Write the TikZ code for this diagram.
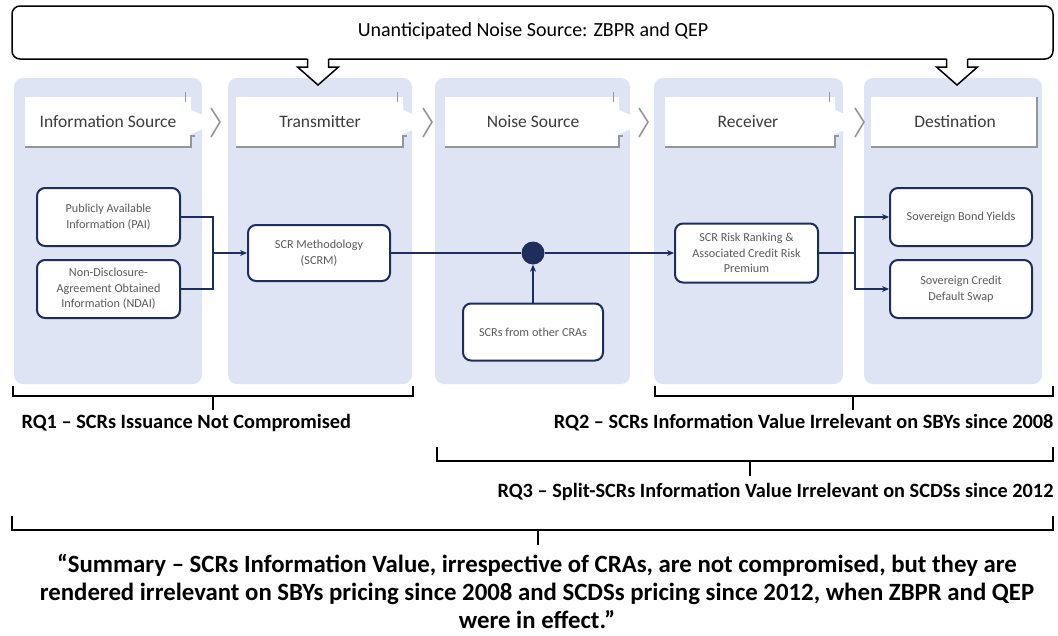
\documentclass[tikz,border=0pt]{standalone}
\usepackage{fontspec}
\setmainfont{Carlito}
\usetikzlibrary{arrows.meta}
\definecolor{navy}{RGB}{31,45,92}
\definecolor{lane}{RGB}{222,228,243}
\definecolor{hdrtext}{RGB}{60,60,60}
\definecolor{boxtext}{RGB}{90,90,90}
\definecolor{shade}{RGB}{150,150,150}
\tikzset{
  x=1pt, y=-1pt,
  lanebox/.style={fill=lane, draw=none, rounded corners=9pt},
  hdr/.style={fill=white, draw=none},
  hdrline/.style={draw=shade, line width=1.6pt},
  hdrlabel/.style={text=hdrtext, font=\fontsize{17.5}{21}\selectfont},
  item/.style={draw=navy, line width=2pt, fill=white, rounded corners=8pt,
    align=center, text=boxtext, font=\fontsize{12.2}{15.5}\selectfont, inner sep=2pt},
  conn/.style={draw=navy, line width=1.8pt},
  tip/.style={-{Stealth[length=7pt,width=6pt]}},
  brace/.style={draw=black, line width=1.2pt},
  rq/.style={font=\bfseries\fontsize{20.3}{24}\selectfont},
}
\begin{document}
\begin{tikzpicture}
\useasboundingbox (0,0) rectangle (1058,635);
\fill[white] (0,0) rectangle (1058,635);

% swim lanes
\path[lanebox] (14,78) rectangle (202,384);
\path[lanebox] (228,78) rectangle (412,384);
\path[lanebox] (435,78) rectangle (630,384);
\path[lanebox] (654,78) rectangle (843,384);
\path[lanebox] (864,78) rectangle (1042,384);

% lane headers (white tabs with right-hand chevrons)
\foreach \l/\r in {25/191, 236/403, 445/619, 665/835}{
  \path[hdr] (\l,97) -- (\r,97) -- (\r,110) -- (\r+28,122) -- (\r,134) -- (\r,147) -- (\l,147) -- cycle;
  \draw[hdrline] (\l,147) -- (\r,147) -- (\r,136) -- (\r+4,136);
  \draw[hdrline] (\r+20,108) -- (\r+29,122) -- (\r+20,137);
  \draw[draw=shade, line width=1pt] (\r-6,92) -- (\r-6,102);
}
\path[hdr] (871,97) rectangle (1037,147);
\draw[hdrline] (871,147) -- (1037,147) -- (1037,97);

\node[hdrlabel] (hInfo) at (108,122) {Information Source};
\node[hdrlabel] (hTx) at (320,122) {Transmitter};
\node[hdrlabel] (hNoise) at (533,122) {Noise Source};
\node[hdrlabel] (hRx) at (748,122) {Receiver};
\node[hdrlabel] (hDest) at (955,122) {Destination};

% top banner
\draw[line width=1.5pt, rounded corners=8pt, fill=white] (12,6) rectangle (1053,59);
\node[font=\fontsize{20}{24}\selectfont] (banner) at (533,31) {Unanticipated Noise Source: ZBPR and QEP};

% hollow block arrows from the banner
\foreach \c in {318, 957}{
  \fill[white] (\c-10.5,57) -- (\c-10.5,67) -- (\c-20.5,67) -- (\c,85) -- (\c+20.5,67) -- (\c+10.5,67) -- (\c+10.5,57) -- cycle;
  \draw[line width=1.5pt, line join=miter] (\c-10.5,59) -- (\c-10.5,67) -- (\c-20.5,67) -- (\c,85) -- (\c+20.5,67) -- (\c+10.5,67) -- (\c+10.5,59);
}

% process boxes
\node[item, minimum width=143pt, minimum height=58pt] (pai) at (108.5,217) {Publicly Available\\Information (PAI)};
\node[item, minimum width=143pt, minimum height=58pt] (ndai) at (108.5,289) {Non-Disclosure-\\Agreement Obtained\\Information (NDAI)};
\node[item, minimum width=142pt, minimum height=56pt] (scrm) at (319,253) {SCR Methodology\\(SCRM)};
\node[circle, fill=navy, minimum size=23pt, inner sep=0pt] (dot) at (533,253) {};
\node[item, minimum width=140pt, minimum height=57pt] (cras) at (533,332) {SCRs from other CRAs};
\node[item, minimum width=143pt, minimum height=59pt] (rank) at (746.5,253) {SCR Risk Ranking \&\\Associated Credit Risk\\Premium};
\node[item, minimum width=142pt, minimum height=58pt] (sby) at (961,217) {Sovereign Bond Yields};
\node[item, minimum width=142pt, minimum height=58pt] (scds) at (961,289) {Sovereign Credit\\Default Swap};

% connectors
\coordinate (j1) at (213,253);
\coordinate (j2) at (855,253);
\draw[conn] (pai.east) -| (j1);
\draw[conn] (ndai.east) -| (j1);
\draw[conn, tip] (j1) -- (scrm.west);
\draw[conn] (scrm.east) -- (dot.west);
\draw[conn, tip] (dot.east) -- (rank.west);
\draw[conn, tip] (cras.north) -- (dot.south);
\draw[conn] (rank.east) -- (j2);
\draw[conn, tip] (j2) |- (sby.west);
\draw[conn, tip] (j2) |- (scds.west);

% brackets and their captions
\draw[brace] (13,386) -- (13,396) -- (413,396) -- (413,386);
\draw[brace] (213,396) -- (213,410);
\node[rq, anchor=west] (rq1) at (18,423) {RQ1 – SCRs Issuance Not Compromised};

\draw[brace] (655,386) -- (655,396) -- (1053,396) -- (1053,386);
\draw[brace] (853,396) -- (853,410);
\node[rq, anchor=east] (rq2) at (1057,423) {RQ2 – SCRs Information Value Irrelevant on SBYs since 2008};

\draw[brace] (437,447) -- (437,461) -- (1053,461) -- (1053,447);
\draw[brace] (750,461) -- (750,476);
\node[rq, anchor=east] (rq3) at (1057,492) {RQ3 – Split-SCRs Information Value Irrelevant on SCDSs since 2012};

\draw[brace] (12,516) -- (12,530) -- (1053,530) -- (1053,516);
\draw[brace] (538,530) -- (538,545);
\node[align=center, font=\bfseries\fontsize{24.8}{28}\selectfont] (summary) at (537,591)
  {“Summary – SCRs Information Value, irrespective of CRAs, are not compromised, but they are\\
   rendered irrelevant on SBYs pricing since 2008 and SCDSs pricing since 2012, when ZBPR and QEP\\
   were in effect.”};
\end{tikzpicture}
\end{document}
